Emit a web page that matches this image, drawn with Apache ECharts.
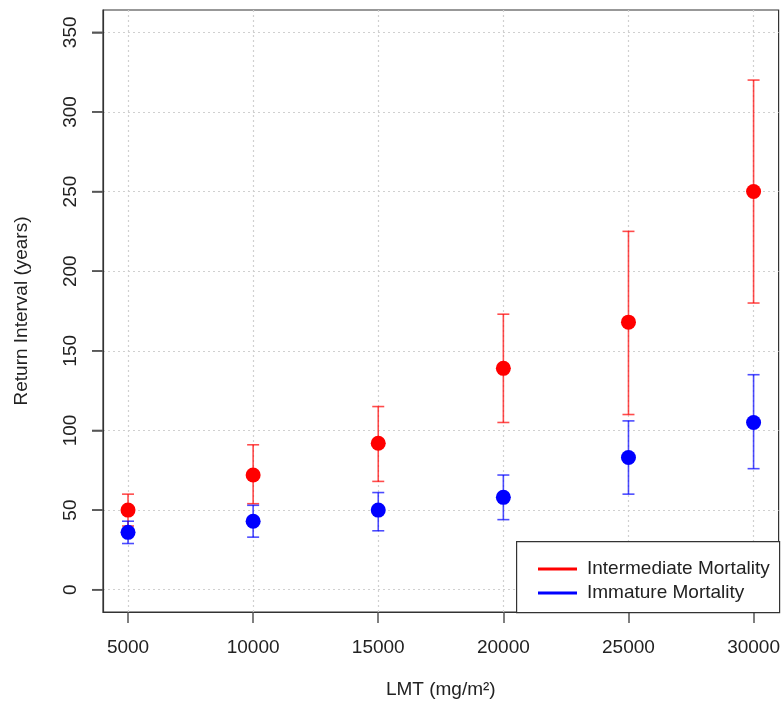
<!DOCTYPE html>
<html>
<head>
<meta charset="utf-8">
<script src="https://cdn.jsdelivr.net/npm/echarts@6/dist/echarts.min.js"></script>
<style>
html,body{margin:0;padding:0;background:#fff;}
#chart{width:783px;height:708px;}
</style>
</head>
<body>
<div id="chart"></div>
<script>
var lmt = [5000, 10000, 15000, 20000, 25000, 30000];
var interMean = [50, 72, 92, 139, 168, 250];
var interLow = [40, 54, 68, 105, 110, 180];
var interHigh = [60, 91, 115, 173, 225, 320];
var immMean = [36, 43, 50, 58, 83, 105];
var immLow = [29, 33, 37, 44, 60, 76];
var immHigh = [43, 53, 61, 72, 106, 135];
var xTicks = [5000, 10000, 15000, 20000, 25000, 30000];
var yTicks = [0, 50, 100, 150, 200, 250, 300, 350];

var FONT = 'Liberation Sans, Arial, sans-serif';
var TXT = '#222';
var X_MIN = 4000, X_MAX = 31000, Y_MIN = -14, Y_MAX = 364;

function pts(mean) { return lmt.map(function (x, i) { return [x, mean[i]]; }); }
function bars(lo, hi) { return lmt.map(function (x, i) { return [x, lo[i], hi[i]]; }); }

function errRender(color) {
  return function (params, api) {
    var x = api.value(0);
    var lo = api.coord([x, api.value(1)]);
    var hi = api.coord([x, api.value(2)]);
    var hw = 6;
    var st = { stroke: color, lineWidth: 1.6 };
    return {
      type: 'group',
      children: [
        { type: 'line', shape: { x1: lo[0], y1: lo[1], x2: hi[0], y2: hi[1] }, style: st },
        { type: 'line', shape: { x1: lo[0] - hw, y1: lo[1], x2: lo[0] + hw, y2: lo[1] }, style: st },
        { type: 'line', shape: { x1: hi[0] - hw, y1: hi[1], x2: hi[0] + hw, y2: hi[1] }, style: st }
      ]
    };
  };
}

var tickStyle = { color: '#555', width: 1.5 };

var chart = echarts.init(document.getElementById('chart'));
chart.setOption({
  animation: false,
  backgroundColor: '#fff',
  textStyle: { fontFamily: FONT },
  grid: { left: 103, right: 4, top: 10, bottom: 96, show: true, borderColor: '#333', borderWidth: 1.2, backgroundColor: 'transparent' },
  xAxis: {
    type: 'value', min: X_MIN, max: X_MAX,
    name: 'LMT (mg/m²)', nameLocation: 'middle', nameGap: 68,
    nameTextStyle: { fontSize: 19, color: TXT, fontFamily: FONT },
    axisLine: { show: true, onZero: false, lineStyle: { color: '#333', width: 1.2 } },
    axisTick: { show: true, inside: false, length: 11, customValues: xTicks, lineStyle: tickStyle },
    axisLabel: { customValues: xTicks, fontSize: 19, color: TXT, margin: 26, fontFamily: FONT, formatter: function (v) { return String(v); } },
    splitLine: { show: true, lineStyle: { color: '#d0d0d0', type: [2, 3], width: 1.2 } }
  },
  yAxis: {
    type: 'value', min: Y_MIN, max: Y_MAX,
    name: 'Return Interval (years)', nameLocation: 'middle', nameGap: 72, nameRotate: 90,
    nameTextStyle: { fontSize: 19, color: TXT, fontFamily: FONT },
    axisLine: { show: true, onZero: false, lineStyle: { color: '#333', width: 1.2 } },
    axisTick: { show: true, inside: false, length: 11, customValues: yTicks, lineStyle: tickStyle },
    axisLabel: { customValues: yTicks, rotate: 90, fontSize: 19, color: TXT, margin: 23, fontFamily: FONT, formatter: function (v) { return String(v); } },
    splitLine: { show: true, lineStyle: { color: '#d0d0d0', type: [2, 3], width: 1.2 } }
  },
  legend: {
    orient: 'vertical', left: 533, top: 554, z: 20,
    data: ['Intermediate Mortality', 'Immature Mortality'],
    icon: 'rect', itemWidth: 39, itemHeight: 3, itemGap: 4,
    textStyle: { fontSize: 19, color: TXT, fontFamily: FONT, lineHeight: 20, padding: [0, 0, 0, 5] },
    selectedMode: false
  },
  graphic: [{
    id: 'legendBox', type: 'rect', z: 15, left: 516, top: 541,
    shape: { width: 263, height: 71 },
    style: { fill: '#fff', stroke: '#333', lineWidth: 1.2 }
  }],
  series: [
    { name: 'Intermediate Error', type: 'custom', renderItem: errRender('rgba(255,0,0,0.7)'), data: bars(interLow, interHigh), z: 2 },
    { name: 'Intermediate Mortality', type: 'scatter', data: pts(interMean), symbolSize: 15, itemStyle: { color: '#ff0000', opacity: 1 }, z: 3 },
    { name: 'Immature Error', type: 'custom', renderItem: errRender('rgba(0,0,255,0.7)'), data: bars(immLow, immHigh), z: 4 },
    { name: 'Immature Mortality', type: 'scatter', data: pts(immMean), symbolSize: 15, itemStyle: { color: '#0000ff', opacity: 1 }, z: 5 }
  ]
});

// y-axis tick marks placed through the axis scales, on a top layer
var axisX = chart.convertToPixel({ xAxisIndex: 0 }, X_MIN);
var tickGraphics = yTicks.map(function (v, i) {
  var py = chart.convertToPixel({ yAxisIndex: 0 }, v);
  return {
    id: 'ytick' + i, type: 'rect', z: 1000, zlevel: 1,
    shape: { x: axisX - 11, y: py - 0.75, width: 11, height: 1.5 },
    style: { fill: '#555' }
  };
});
chart.setOption({ graphic: tickGraphics });
</script>
</body>
</html>
